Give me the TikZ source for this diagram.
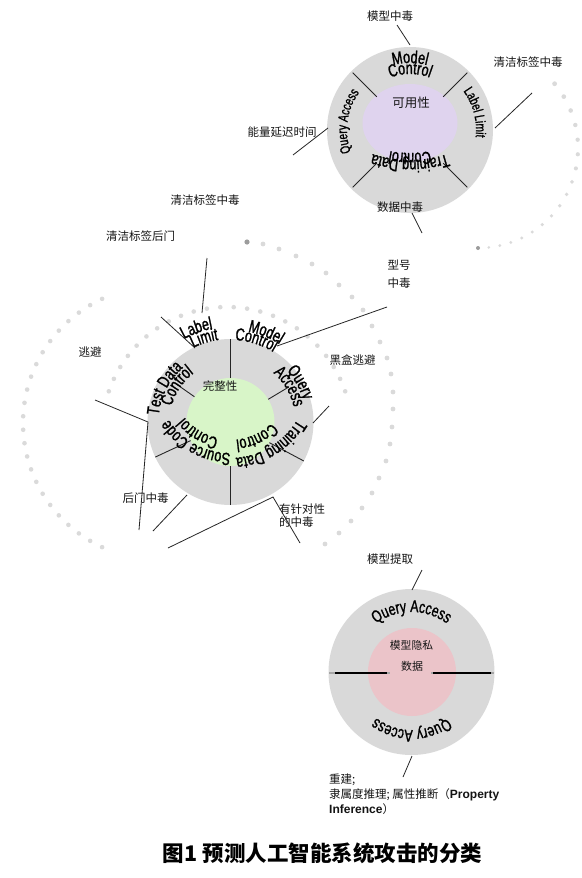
\documentclass[tikz,border=0pt]{standalone}
\usepackage{fontspec}
\usetikzlibrary{decorations.text}
\newfontfamily\cjk{Noto Sans CJK SC}
\newfontfamily\ringfont[FakeStretch=0.72,FakeBold=1.2]{Liberation Sans}
\newfontfamily\latb{Liberation Sans}
\definecolor{ringgray}{HTML}{D9D9D9}
\definecolor{lav}{HTML}{DFD3EE}
\definecolor{lgreen}{HTML}{D8F5C8}
\definecolor{lpink}{HTML}{EBC4C9}
\definecolor{dotgray}{HTML}{DADADA}
\definecolor{dotdark}{HTML}{9C9C9C}
\definecolor{txt}{HTML}{141414}
% #1 centre, #2 radius, #3 theta centre, #4 font size, #5 text
\newcommand\ringtxt[5]{%
  \path[decorate,decoration={text along path,text align=center,
    text={|\ringfont\fontsize{#4}{#4}\selectfont|#5}}]
    (#1) ++({#3-55}:#2) arc[start angle={#3-55}, end angle={#3+55}, radius=#2];}
\begin{document}
\begin{tikzpicture}[x=1pt,y=-1pt,
  lbl/.style={font=\cjk\fontsize{11.5}{14}\selectfont, text=txt, inner sep=0pt},
  conn/.style={draw=black!85, line width=0.8pt},
  sector/.style={draw=black!85, line width=0.9pt},
  dotc/.style={fill=dotgray, draw=none},
]
\useasboundingbox (0,0) rectangle (581,878);
\fill[white] (0,0) rectangle (581,878);

% ---------- dotted arcs ----------
\foreach \i in {0,...,17}{
  \pgfmathsetmacro\L{16*\i - 0.156*\i*\i}
  \pgfmathsetmacro\th{-40 + \L/100*57.2958}
  \pgfmathsetmacro\rr{2.4-1.0*\i/17}
  \fill[dotc] (478,148) ++(\th:100) circle[radius=\rr];
}
\fill[dotdark] (478,248) circle[radius=2];

\foreach \p in {(263,244),(279,249),(296,256),(312,264),(326,273),(339,285),(352,297),(363,310),(372,326),(380,342),(387,358),(391,374),(393,392),(393,409),(392,427),(390,444),(386,461),(379,478),(372,493),(362,508),(351,521),(339,533),(325,544)}
  \fill[dotc] \p circle[radius=2.4];
\fill[dotdark] (247,242) circle[radius=2.6];

\foreach \i in {0,...,23}{
  \pgfmathsetmacro\th{-115 - 130*\i/23}
  \fill[dotc] (160,423) ++(\th:137) circle[radius=2.3];
}
\foreach \i in {0,...,23}{
  \pgfmathsetmacro\th{-161 + 142*\i/23}
  \fill[dotc] (227,432) ++(\th:125) circle[radius=2.3];
}

% ---------- top circle: availability ----------
\coordinate (c1) at (410,130);
\fill[ringgray] (c1) circle[radius=83];
\fill[lav] (410,123) ellipse[x radius=47.5, y radius=39];
\foreach \t in {-135,-45,45,135}
  \draw[sector] (c1) ++(\t:47) -- ++(\t:34);
\coordinate (c1b) at (410,40);
\ringtxt{c1}{67}{-90}{17.5}{Model}
\ringtxt{c1}{56}{-90}{17.5}{Control}
\ringtxt{c1}{66}{-15}{14}{Label Limit}
\ringtxt{c1}{63}{188}{14}{Query Access}
\ringtxt{c1b}{120}{90}{17.5}{Training Data}
\ringtxt{c1b}{113}{90}{17.5}{Control}
\node[lbl, font=\cjk\fontsize{12.5}{14}\selectfont] (avail) at (411,103) {可用性};

\node[lbl] (t1) at (390,16) {模型中毒};
\node[lbl] (t2) at (528,62) {清洁标签中毒};
\node[lbl] (t3) at (282,132) {能量延迟时间};
\node[lbl] (t4) at (400,207) {数据中毒};
\coordinate (t1a) at (397,25);  \coordinate (t1b) at (410,45);
\coordinate (t2a) at (532,93);  \coordinate (t2b) at (495,128);
\coordinate (t3a) at (293,155); \coordinate (t3b) at (328,128);
\coordinate (t4a) at (412,213); \coordinate (t4b) at (422,233);
\draw[conn] (t1a) -- (t1b);
\draw[conn] (t2a) -- (t2b);
\draw[conn] (t3a) -- (t3b);
\draw[conn] (t4a) -- (t4b);

% ---------- middle circle: integrity ----------
\coordinate (c2) at (230.5,422);
\coordinate (c2b) at (230,380);
\fill[ringgray] (c2) circle[radius=83];
\fill[lgreen] (c2) circle[radius=44];
\draw[sector] (c2) ++(-90:44) -- ++(-90:39);
\draw[sector] (c2) ++(90:44) -- ++(90:39);
\draw[sector] (c2) ++(28:44) -- ++(28:39);
\draw[sector] (c2) ++(-205:44) -- ++(-205:39);
\draw[sector] (c2) ++(-31:44) -- ++(-31:24);
\draw[sector] (c2) ++(-145:44) -- ++(-145:24);
\ringtxt{c2}{72}{207}{17.5}{Test Data}
\ringtxt{c2}{61}{214}{17.5}{Control}
\ringtxt{c2}{95}{-110}{17.5}{Label}
\ringtxt{c2}{83}{-107.5}{17.5}{Limit}
\ringtxt{c2}{92}{-68.4}{17.5}{Model}
\ringtxt{c2}{82}{-72.7}{17.5}{Control}
\ringtxt{c2}{76}{-29.5}{17.5}{Query}
\ringtxt{c2}{65}{-31}{17.5}{Access}
\ringtxt{c2b}{78}{58}{17.5}{Training Data}
\ringtxt{c2b}{60}{65}{17.5}{Control}
\ringtxt{c2b}{73}{118.5}{17.5}{Source Code}
\ringtxt{c2b}{59}{121}{17.5}{Control}
\node[lbl] (integ) at (220,386) {完整性};

\node[lbl] (m1) at (205,200) {清洁标签中毒};
\node[lbl] (m2) at (140.5,236) {清洁标签后门};
\node[lbl, align=center, font=\cjk\fontsize{11.5}{18}\selectfont] (m3) at (399,274) {型号\\中毒};
\node[lbl] (m4) at (352.5,360) {黑盒逃避};
\node[lbl] (m5) at (90,352) {逃避};
\node[lbl] (m6) at (145.5,498) {后门中毒};
\node[lbl, align=left, anchor=north west, font=\cjk\fontsize{11.5}{13}\selectfont] (m7) at (279,504) {有针对性\\的中毒};
\coordinate (m2a) at (207,258); \coordinate (m2b) at (202,313);
\coordinate (m1a) at (161,317); \coordinate (m1b) at (195,348);
\coordinate (m3a) at (387,307); \coordinate (m3b) at (277,346);
\coordinate (m4a) at (329,406); \coordinate (m4b) at (313,423);
\coordinate (m5a) at (95,400);  \coordinate (m5b) at (148,422); \coordinate (m5c) at (139,530);
\coordinate (m6a) at (187,495); \coordinate (m6b) at (153,531);
\coordinate (m7a) at (168,548); \coordinate (m7b) at (273,497); \coordinate (m7c) at (300,543);
\draw[conn] (m2a) -- (m2b);
\draw[conn] (m1a) -- (m1b);
\draw[conn] (m3a) -- (m3b);
\draw[conn] (m4a) -- (m4b);
\draw[conn] (m5a) -- (m5b) -- (m5c);
\draw[conn] (m6a) -- (m6b);
\draw[conn] (m7a) -- (m7b) -- (m7c);

% ---------- bottom circle: privacy ----------
\coordinate (c3) at (411.5,672);
\fill[ringgray] (c3) circle[radius=83];
\fill[lpink] (412,672) circle[radius=44];
\coordinate (h1) at (329,673); \coordinate (h2) at (390,673);
\coordinate (h3) at (431,673); \coordinate (h4) at (494,673);
\coordinate (k1) at (335,673); \coordinate (k2) at (387,673);
\coordinate (k3) at (433,673); \coordinate (k4) at (491,673);
\draw[gray!70, line width=2.4pt] (h1) -- (h2);
\draw[gray!70, line width=2.4pt] (h3) -- (h4);
\draw[black, line width=2.6pt] (k1) -- (k2);
\draw[black, line width=2.6pt] (k3) -- (k4);
\ringtxt{c3}{60}{-90}{17}{Query Access}
\ringtxt{c3}{58}{90}{17}{Query Access}
\node[lbl, font=\cjk\fontsize{10.8}{13}\selectfont] (priv) at (411.5,645) {模型隐私};
\node[lbl, font=\cjk\fontsize{11}{13}\selectfont] (data) at (412,666) {数据};

\node[lbl] (b1) at (390,559) {模型提取};
\node[lbl, align=left, anchor=north west, font=\cjk\fontsize{11.5}{15}\selectfont] (b4) at (329,774)
  {重建;\\隶属度推理; 属性推断（{\latb\bfseries\fontsize{12}{15}\selectfont Property}\\{\latb\bfseries\fontsize{12}{15}\selectfont Inference}）};
\coordinate (b1a) at (422,570); \coordinate (b1b) at (412,590);
\coordinate (b4a) at (412,756); \coordinate (b4b) at (403,777);
\draw[conn] (b1a) -- (b1b);
\draw[conn] (b4a) -- (b4b);

% ---------- caption ----------
\node[lbl, font=\cjk\bfseries\fontsize{21.5}{24}\selectfont, text=black] (cap) at (322.5,853) {图1 预测人工智能系统攻击的分类};
\end{tikzpicture}
\end{document}
